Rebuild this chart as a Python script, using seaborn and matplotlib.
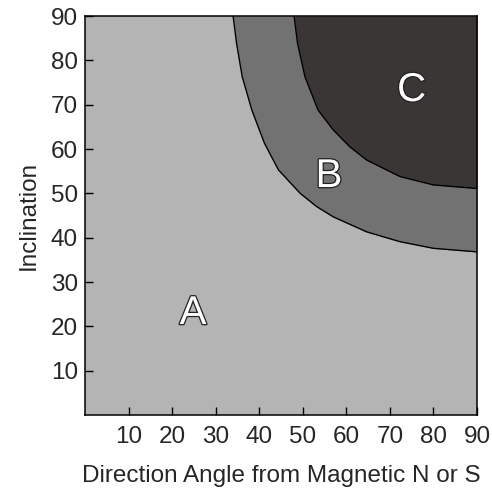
import matplotlib
matplotlib.use("Agg")
import matplotlib.pyplot as plt
import matplotlib.patheffects as pe
import seaborn as sns

# Boundary between zones A and B (direction angle, inclination)
ab_angle = [34.0, 34.8, 36.1, 38.3, 41.2, 44.4, 49.4, 53.2, 57.0, 64.7, 72.3, 80.0, 90.0]
ab_incl = [90.0, 83.8, 76.3, 68.8, 61.3, 55.3, 50.0, 47.0, 44.7, 41.3, 39.1, 37.6, 36.8]

# Boundary between zones B and C
bc_angle = [48.0, 48.8, 50.5, 53.5, 57.0, 60.8, 64.7, 72.3, 80.0, 90.0]
bc_incl = [90.0, 83.8, 76.3, 68.8, 64.3, 60.5, 57.5, 53.8, 51.9, 51.1]

zone_names = ["A", "B", "C"]
zone_label_x = [24.8, 56.0, 75.0]
zone_label_y = [23.0, 53.9, 73.3]
zone_colors = ["#b4b4b4", "#727272", "#3a3635"]

ticks = [10, 20, 30, 40, 50, 60, 70, 80, 90]

sns.set_style("ticks")
plt.rcParams["font.family"] = ["Liberation Sans", "DejaVu Sans"]

fig = plt.figure(figsize=(4.92, 4.93), dpi=100)
ax = fig.add_axes([0.1728, 0.1582, 0.7967, 0.8093])
ax.set_facecolor(zone_colors[0])

ax.fill_between(ab_angle, ab_incl, 90, color=zone_colors[1], lw=0)
ax.fill_between(bc_angle, bc_incl, 90, color=zone_colors[2], lw=0)
sns.lineplot(x=ab_angle, y=ab_incl, sort=False, color="black", lw=1.0, ax=ax)
sns.lineplot(x=bc_angle, y=bc_incl, sort=False, color="black", lw=1.0, ax=ax)

for name, lx, ly in zip(zone_names, zone_label_x, zone_label_y):
    ax.text(lx, ly, name, ha="center", va="center", fontsize=29, color="white",
            path_effects=[pe.Stroke(linewidth=1.8, foreground="#222222"), pe.Normal()])

ax.set_xlim(0, 90)
ax.set_ylim(0, 90)
ax.set_xticks(ticks)
ax.set_yticks(ticks)
ax.tick_params(direction="in", length=6, width=1, labelsize=17.5, color="black")
ax.tick_params(axis="x", pad=8)
ax.tick_params(axis="y", pad=5)
ax.set_xlabel("Direction Angle from Magnetic N or S", fontsize=17.5, labelpad=12)
ax.set_ylabel("Inclination", fontsize=17.5, labelpad=8)
for s in ax.spines.values():
    s.set_visible(True)
    s.set_color("black")
    s.set_linewidth(1.1)

fig.savefig("out.png", dpi=100, facecolor="white")
